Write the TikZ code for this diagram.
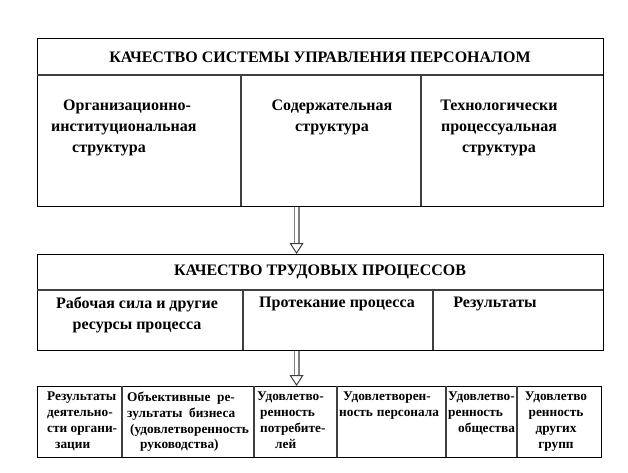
\documentclass[tikz,border=0pt]{standalone}
\usepackage{fontspec}
\setmainfont{Liberation Serif}
\usetikzlibrary{arrows.meta, positioning}

\begin{document}
\begin{tikzpicture}[
  x=1pt, y=-1pt,
  frame/.style={draw=black, line width=1.1pt, inner sep=0pt, anchor=north west},
  rule/.style={draw=black!75, line width=1.1pt},
  head/.style={font=\bfseries\fontsize{16}{18}\selectfont, inner sep=0pt},
  cell/.style={font=\bfseries\fontsize{16}{21}\selectfont, align=center, anchor=north, inner sep=0pt},
  small/.style={font=\bfseries\fontsize{13.3}{15.7}\selectfont, align=left, anchor=north west, inner sep=0pt},
  hollow/.style={draw=gray, line width=1.5pt, double=white, double distance=3pt,
    -{Triangle[open, length=11pt, width=14pt, line width=1pt, color=black!75]}}
]
  \useasboundingbox (0,0) rectangle (628,472);

  % quality of the personnel management system
  \node[frame, minimum width=566pt, minimum height=168pt] (sys) at (37,38) {};
  \draw[rule] (37,75) -- (603,75);
  \foreach \x in {241,421} {
    \draw[rule] (\x,75) -- (\x,206);
  }
  \node[head] (sysT) at (320,57) {КАЧЕСТВО СИСТЕМЫ УПРАВЛЕНИЯ ПЕРСОНАЛОМ};
  \node[cell, align=left, anchor=north west] (org) at (51,100)
    {\hspace*{12pt}Организационно-\\институциональная\\\hspace*{21pt}структура};
  \node[cell] (cont) at (332,100) {Содержательная\\структура};
  \node[cell] (tech) at (499,100) {Технологически\\процессуальная\\структура};

  % quality of labour processes
  \node[frame, minimum width=566pt, minimum height=96pt] (proc) at (37,254) {};
  \draw[rule] (37,290) -- (603,290);
  \foreach \x in {243,433} {
    \draw[rule] (\x,290) -- (\x,350);
  }
  \node[head] (procT) at (320,272) {КАЧЕСТВО ТРУДОВЫХ ПРОЦЕССОВ};
  \node[cell] (res) at (137,297) {Рабочая сила и другие\\ресурсы процесса};
  \node[cell] (flow) at (337,297) {Протекание процесса};
  \node[cell] (out) at (495,297) {Результаты};

  % results
  \node[frame, minimum width=564pt, minimum height=71pt] (rslt) at (37,386) {};
  \foreach \x in {122,254,337,446,517} {
    \draw[rule] (\x,386) -- (\x,457);
  }
  \node[small] (r1) at (47,392) {Результаты\\деятельно-\\сти органи-\\\hspace*{8pt}зации};
  \node[small] (r2) at (127,392)
    {Объективные\ \ ре-\\зультаты\ \ бизнеса\\\hspace*{3pt}(удовлетворенность\\\hspace*{13pt}руководства)};
  \node[small] (r3) at (257,392) {Удовлетво-\\\hspace*{3pt}ренность\\\hspace*{3pt}потребите-\\\hspace*{18pt}лей};
  \node[small] (r4) at (339,392) {\hspace*{4pt}Удовлетворен-\\ность\hspace{4pt}персонала};
  \node[small] (r5) at (448,392) {Удовлетво-\\ренность\\\hspace*{10pt}общества};
  \node[small, align=center, anchor=north] (r6) at (556,392) {Удовлетво\\ренность\\других\\групп};

  % arrows
  \draw[hollow] ([xshift=-24pt]sys.south) -- ([xshift=-24pt]proc.north);
  \draw[hollow] ([xshift=-24pt]proc.south) -- ([xshift=-23pt]rslt.north);
\end{tikzpicture}
\end{document}
